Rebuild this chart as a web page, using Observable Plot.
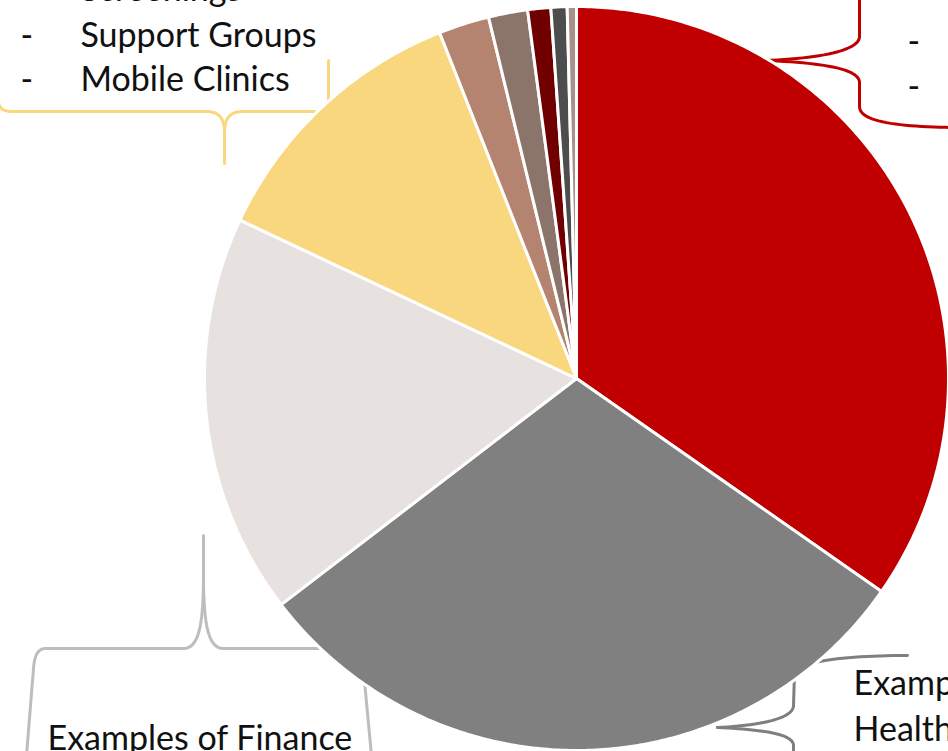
<!DOCTYPE html>
<html>
<head>
<meta charset="utf-8">
<script src="https://cdn.jsdelivr.net/npm/d3@7"></script>
<script src="https://cdn.jsdelivr.net/npm/@observablehq/plot@0.6"></script>
<style>
  html, body { margin: 0; padding: 0; background: #fff; }
  #chart svg { display: block; }
</style>
</head>
<body>
<div id="chart"></div>
<script>
// ---- data ----
const categories = ["Segment 1", "Segment 2", "Segment 3", "Segment 4", "Segment 5", "Segment 6", "Segment 7", "Segment 8", "Segment 9"];
const shares = [34.7, 29.9, 17.4, 12.0, 2.2, 1.7, 1.0, 0.7, 0.4];
const sliceColors = ["#C00000", "#808080", "#E7E2DF", "#F9D77E", "#B58470", "#8B756B", "#700000", "#4D4D4D", "#A8918A"];

// annotation text
const noteLinesTopLeft = ["Screenings", "Support Groups", "Mobile Clinics"];
const noteLinesBottomRight = ["Examples of", "Healthcare"];
const noteBottomLeft = "Examples of Finance";

// ---- layout (pixel-like units through identity scales) ----
const W = 948, H = 751;
const cx = 576, cy = 378, R = 372;

const pie = d3.pie().sort(null).value(d => d)(shares);
const slicePts = [];
pie.forEach((p, i) => {
  const n = Math.max(4, Math.ceil((p.endAngle - p.startAngle) / 0.01));
  slicePts.push({cat: categories[i], x: cx, y: cy});
  for (let k = 0; k <= n; k++) {
    const a = p.startAngle + (p.endAngle - p.startAngle) * k / n;
    slicePts.push({cat: categories[i], x: cx + R * Math.sin(a), y: cy - R * Math.cos(a)});
  }
  slicePts.push({cat: categories[i], x: cx, y: cy});
});

// brace path helper
function pathPts(id, cmds) {
  const out = [];
  let px = 0, py = 0;
  for (const c of cmds) {
    if (c[0] === "M" || c[0] === "L") {
      px = c[1]; py = c[2];
      out.push({id, x: px, y: py});
    } else if (c[0] === "C") {
      const [, x1, y1, x2, y2, x, y] = c;
      for (let k = 1; k <= 24; k++) {
        const t = k / 24, u = 1 - t;
        out.push({id,
          x: u*u*u*px + 3*u*u*t*x1 + 3*u*t*t*x2 + t*t*t*x,
          y: u*u*u*py + 3*u*u*t*y1 + 3*u*t*t*y2 + t*t*t*y});
      }
      px = x; py = y;
    }
  }
  return out;
}

const yellowBrace = [
  ...pathPts("y1", [["M", -2, 60], ["L", -2, 100], ["C", -2, 108, 3, 111, 12, 111], ["L", 205, 111],
                    ["C", 217, 111, 224, 116, 224, 132], ["L", 224, 163]]),
  ...pathPts("y2", [["M", 224, 132], ["C", 224, 116, 231, 111, 243, 111], ["L", 316, 111],
                    ["C", 324, 111, 328, 106, 328, 98], ["L", 328, 60]])
];
const grayBraceLeft = [
  ...pathPts("g1", [["M", 203, 535], ["L", 203, 575], ["C", 203, 625, 198, 648, 183, 648], ["L", 45, 648],
                    ["C", 38, 648, 34, 654, 33, 668], ["L", 26, 755]]),
  ...pathPts("g2", [["M", 203, 575], ["C", 203, 625, 208, 648, 223, 648], ["L", 350, 648],
                    ["C", 358, 648, 362, 655, 363, 670], ["L", 371, 755]])
];
const grayBraceRight = [
  ...pathPts("d1", [["M", 907, 655], ["C", 850, 655, 800, 660, 794, 672], ["L", 793, 705],
                    ["C", 793, 718, 760, 725, 717, 727]]),
  ...pathPts("d2", [["M", 717, 727], ["C", 760, 729, 793, 733, 793, 745], ["L", 793, 755]])
];
const redBrace = [
  ...pathPts("r1", [["M", 859, -5], ["L", 859, 36], ["C", 859, 50, 820, 58, 763, 60]]),
  ...pathPts("r2", [["M", 763, 60], ["C", 820, 62, 859, 68, 859, 82], ["L", 859, 106],
                    ["C", 859, 122, 900, 126, 952, 127]])
];

const FONT = "'Gill Sans', 'Gill Sans MT', Lato, 'DejaVu Sans', sans-serif";
const FS = 34;

const texts = [
  {t: "-", x: 20, y: 0}, {t: noteLinesTopLeft[0], x: 80, y: 0},
  {t: "-", x: 20, y: 46}, {t: noteLinesTopLeft[1], x: 80, y: 46},
  {t: "-", x: 20, y: 90}, {t: noteLinesTopLeft[2], x: 80, y: 90},
  {t: "-", x: 907, y: 52}, {t: "-", x: 907, y: 97},
  {t: noteLinesBottomRight[0], x: 853, y: 694},
  {t: noteLinesBottomRight[1], x: 853, y: 740},
  {t: noteBottomLeft, x: 47, y: 749}
];

const chart = Plot.plot({
  width: W, height: H,
  margin: 0,
  style: {background: "#fff", fontFamily: FONT},
  x: {domain: [0, W], range: [0, W], axis: null},
  y: {domain: [0, H], range: [0, H], axis: null},
  color: {domain: categories, range: sliceColors},
  marks: [
    Plot.line(yellowBrace, {x: "x", y: "y", z: "id", stroke: "#F9D77E", strokeWidth: 3, curve: "linear", strokeLinecap: "round"}),
    Plot.line(grayBraceLeft, {x: "x", y: "y", z: "id", stroke: "#BDBDBD", strokeWidth: 3, curve: "linear", strokeLinecap: "round"}),
    Plot.line(grayBraceRight, {x: "x", y: "y", z: "id", stroke: "#7F7F7F", strokeWidth: 3, curve: "linear", strokeLinecap: "round"}),
    Plot.line(redBrace, {x: "x", y: "y", z: "id", stroke: "#C00000", strokeWidth: 3, curve: "linear", strokeLinecap: "round"}),
    Plot.line(slicePts, {x: "x", y: "y", z: "cat", fill: "cat", stroke: "white", strokeWidth: 3, strokeLinejoin: "round", curve: "linear"}),
    Plot.text(texts, {x: "x", y: "y", text: "t", textAnchor: "start", lineAnchor: "bottom",
      fontSize: FS, fill: "#111", fontFamily: FONT})
  ]
});
document.getElementById("chart").append(chart);
</script>
</body>
</html>
